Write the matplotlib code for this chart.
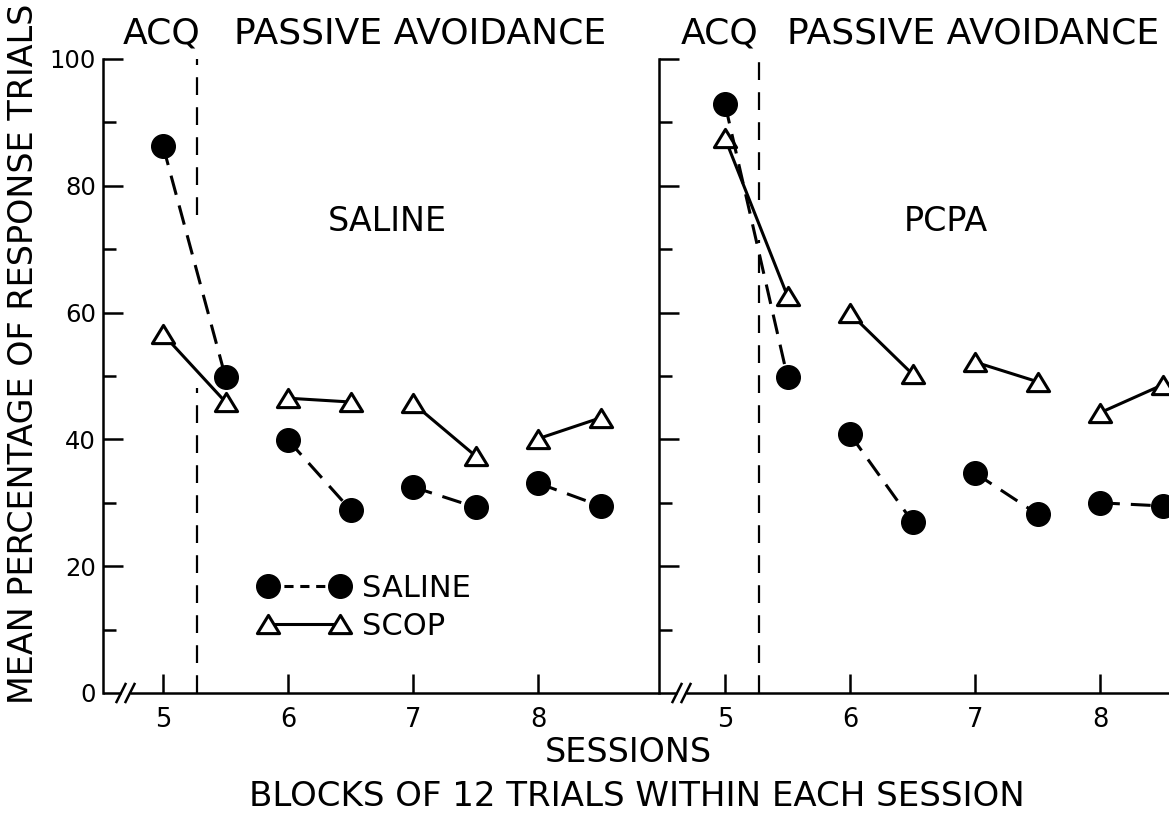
import matplotlib
matplotlib.use("Agg")
import matplotlib.pyplot as plt
from matplotlib.lines import Line2D
from matplotlib.path import Path

plt.rcParams['font.family'] = ['DejaVu Sans']

# ---------------- data ----------------
blocks = [5, 5.5, 6, 6.5, 7, 7.5, 8, 8.5]
saline_left = [86.3, 49.8, 39.9, 28.9, 32.5, 29.3, 33.1, 29.5]
scop_left = [56.6, 45.9, 46.5, 45.9, 45.7, 37.4, 40.1, 43.4]
saline_right = [92.9, 49.8, 40.8, 27.0, 34.7, 28.2, 30.0, 29.5]
scop_right = [87.5, 62.6, 59.9, 50.3, 52.2, 49.1, 44.2, 48.6]
panel_names = ["SALINE", "PCPA"]
series_names = ["SALINE", "SCOP"]
session_ticks = [5, 6, 7, 8]
y_major = [0, 20, 40, 60, 80, 100]
y_minor = [10, 30, 50, 70, 90]
acq_boundary = 5.27
# gaps left in the ACQ boundary line (where the curves cross it)
boundary_segments = [[(75.4, 100), (0, 48.1)], [(77.8, 100), (0, 71.5)]]

# ---------------- layout ----------------
W, H = 1169, 814
fig = plt.figure(figsize=(W / 100, H / 100), dpi=100)


def fx(px):
    return px / W


def fy(py):
    return 1 - py / H


y0px, y100px = 693, 59
ax_l = fig.add_axes([fx(103), fy(y0px), fx(659 - 103), (y0px - y100px) / H])
ax_r = fig.add_axes([fx(659), fy(y0px), fx(1169 - 659), (y0px - y100px) / H])
xlims = [(4.52, 8.968), (4.472, 8.552)]
breaks = [(4.664, 4.736), (4.616, 4.688)]

LW = 1.8
tri = Path([(-1, -0.82), (1, -0.82), (0, 0.82), (-1, -0.82)],
           [Path.MOVETO, Path.LINETO, Path.LINETO, Path.CLOSEPOLY])
sal_kw = dict(color='black', lw=2.2, dashes=(6.5, 3.6), marker='o', ms=17,
              mfc='black', mec='black', clip_on=False)
scop_kw = dict(color='black', lw=2.2, ls='-', marker=tri, ms=16,
               mfc='white', mec='black', mew=2.2, clip_on=False)

datasets = [(saline_left, scop_left), (saline_right, scop_right)]
for k, ax in enumerate([ax_l, ax_r]):
    sal, scop = datasets[k]
    ax.set_xlim(*xlims[k])
    ax.set_ylim(0, 100)
    for s in ['top', 'right', 'bottom']:
        ax.spines[s].set_visible(False)
    ax.spines['left'].set_linewidth(LW)
    ax.set_yticks(y_major)
    ax.set_yticks(y_minor, minor=True)
    ax.set_xticks(session_ticks)
    ax.tick_params(axis='y', which='major', direction='in', length=14.4, width=LW,
                   labelsize=17.5, pad=5, labelleft=(k == 0))
    ax.tick_params(axis='y', which='minor', direction='in', length=9.4, width=LW)
    ax.tick_params(axis='x', which='major', direction='in', length=14, width=LW,
                   labelsize=18.5, pad=10)
    ax.yaxis.get_major_ticks()[0].tick1line.set_visible(False)

    # bottom axis line with break marks
    b0, b1 = breaks[k]
    ax.plot([xlims[k][0], b0], [0, 0], color='black', lw=LW, clip_on=False,
            solid_capstyle='butt', zorder=3)
    ax.plot([b1, xlims[k][1]], [0, 0], color='black', lw=LW, clip_on=False,
            solid_capstyle='butt', zorder=3)
    for c in (b0, b1):
        ax.plot([c - 0.036, c + 0.036], [-1.42, 1.42], color='black', lw=LW,
                clip_on=False, zorder=3)

    # ACQ / passive avoidance boundary
    for (lo, hi) in boundary_segments[k]:
        ax.plot([acq_boundary, acq_boundary], [lo, hi], color='black', lw=1.6,
                dashes=(8, 5.5), clip_on=False)

    # data: pairs of blocks within each session
    for i in range(0, len(blocks), 2):
        ax.plot(blocks[i:i + 2], scop[i:i + 2], zorder=4, **scop_kw)
        ax.plot(blocks[i:i + 2], sal[i:i + 2], zorder=5, **sal_kw)

# panel labels
fig.text(fx(387), fy(231), panel_names[0], ha='center', va='baseline', fontsize=24)
fig.text(fx(946), fy(231), panel_names[1], ha='center', va='baseline', fontsize=24)

# top labels
for cx, txt in [(162, "ACQ"), (420, "PASSIVE AVOIDANCE"),
                (720, "ACQ"), (973, "PASSIVE AVOIDANCE")]:
    fig.text(fx(cx), fy(43), txt, ha='center', va='baseline', fontsize=26)

# axis titles
fig.text(fx(24), fy(354), "MEAN PERCENTAGE OF RESPONSE TRIALS", rotation=90,
         ha='center', va='center', fontsize=24)
fig.text(fx(628), fy(762), "SESSIONS", ha='center', va='baseline', fontsize=24)
fig.text(fx(637), fy(806), "BLOCKS OF 12 TRIALS WITHIN EACH SESSION",
         ha='center', va='baseline', fontsize=24.5)

# legend
h_sal = Line2D([], [], color='black', lw=2.2, dashes=(3, 2.2), marker='o', ms=17,
               mfc='black', mec='black')
h_scop = Line2D([], [], color='black', lw=2.2, marker=tri, ms=16, mfc='white',
                mec='black', mew=2.2)
leg = ax_l.legend([h_sal, h_scop], series_names, numpoints=2, frameon=False,
                  fontsize=22, handlelength=2.95, handletextpad=0.43,
                  labelspacing=0.3, borderpad=0, borderaxespad=0,
                  loc='upper left', bbox_to_anchor=(fx(259), fy(574)),
                  bbox_transform=fig.transFigure)

fig.savefig("out.png", dpi=100)
